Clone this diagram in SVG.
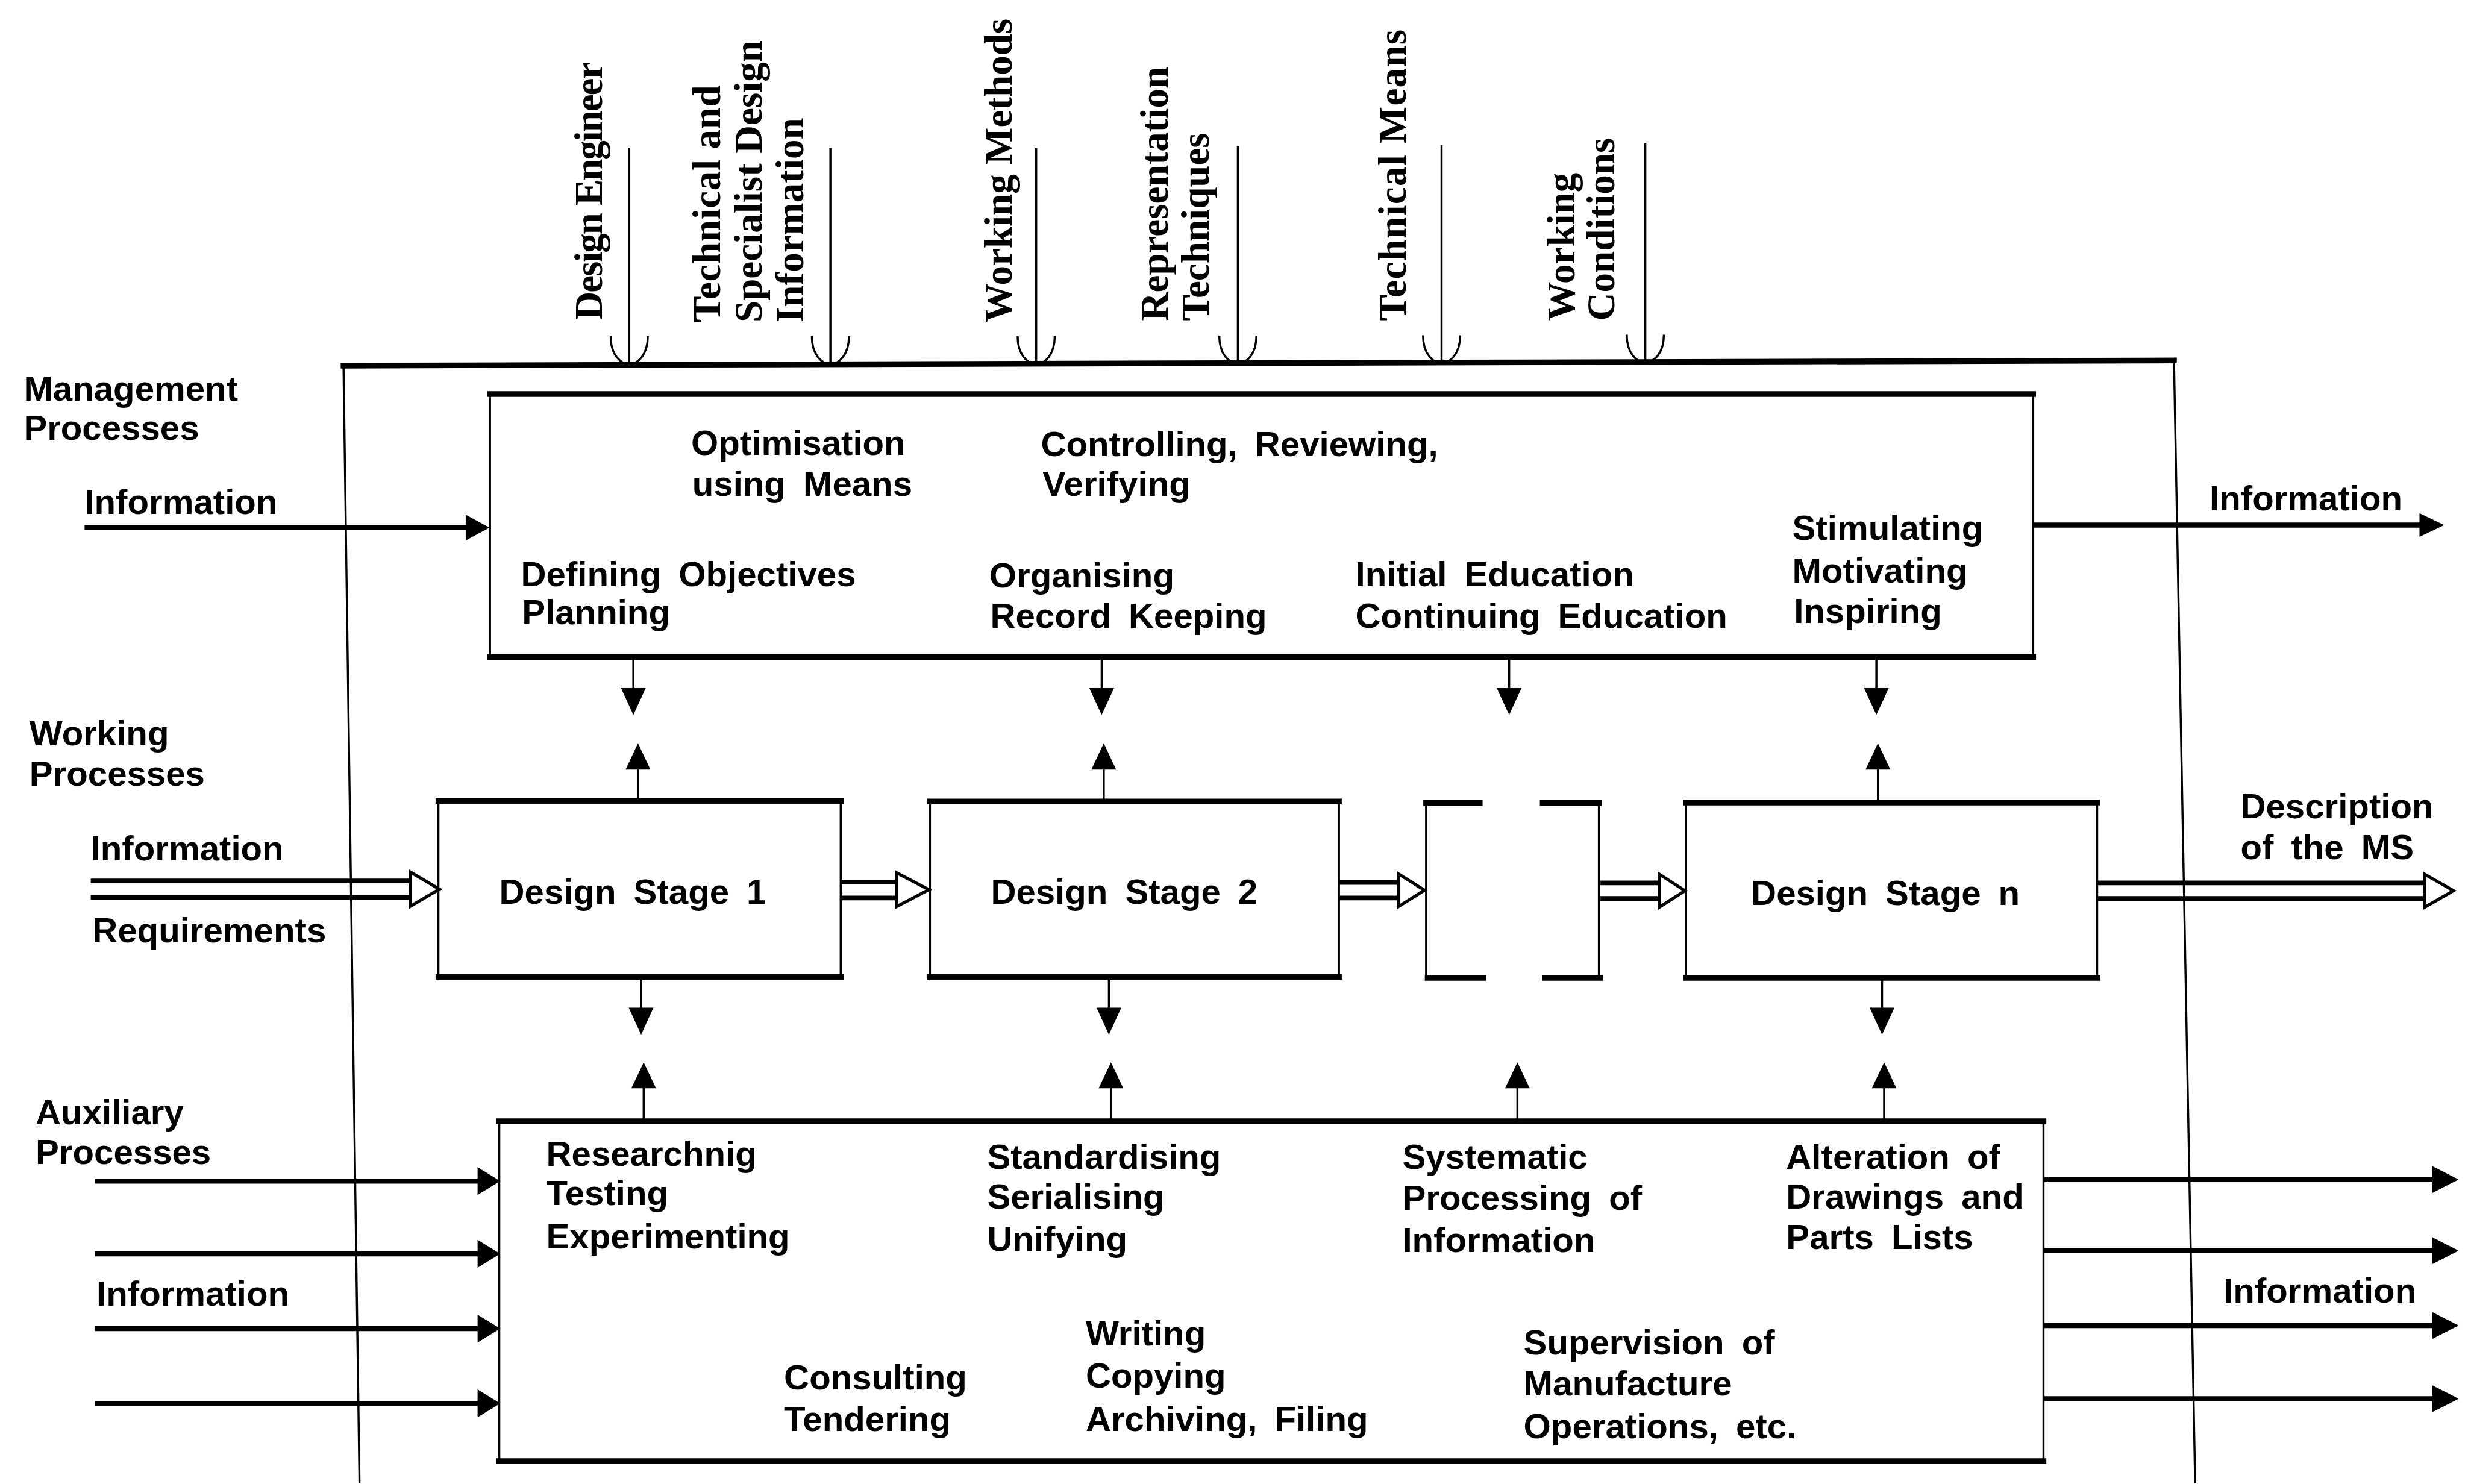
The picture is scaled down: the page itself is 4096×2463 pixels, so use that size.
<svg xmlns="http://www.w3.org/2000/svg" width="4096" height="2463" viewBox="0 0 4096 2463">
<style>
  .lbl { font-family: "Liberation Sans", Arial, sans-serif; font-weight: bold; font-size: 68px; word-spacing: 15px; fill: #000; }
  .vlbl { font-family: "Liberation Serif", "Times New Roman", serif; font-weight: bold; font-size: 76px; fill: #000; }
  .side { fill: none; stroke: #000; stroke-width: 4; }
  .edge { fill: none; stroke: #000; stroke-width: 11; stroke-linecap: square; }
  .feed { fill: none; stroke: #000; stroke-width: 4; }
  .flow { fill: none; stroke: #000; stroke-width: 10; }
  .rail { fill: none; stroke: #000; stroke-width: 9; }
  .link { fill: none; stroke: #000; stroke-width: 4; }
  .head { fill: #000; stroke: none; }
  .open { fill: #fff; stroke: #000; stroke-width: 6; stroke-linejoin: miter; }
</style>
<rect width="4096" height="2463" fill="#fff"/>
<g transform="scale(0.856)">

  <!-- outer system boundary, open at the bottom -->
  <g id="system-boundary">
    <path class="side" d="M666 709 L697 2876 M4215 699 L4256 2876"/>
    <path class="edge" d="M666 709 L4215 699"/>
  </g>

  <!-- resource inputs entering from the top -->
  <g id="input-design-engineer">
    <text class="vlbl" transform="translate(1167 620) rotate(-90)" textLength="500" lengthAdjust="spacing">Design Engineer</text>
    <path class="feed" d="M1220 287 V706 M1184 652 C1184 690 1204 704 1220 708 M1256 652 C1256 690 1236 704 1220 708"/>
  </g>
  <g id="input-information">
    <text class="vlbl" transform="translate(1396 625) rotate(-90)" textLength="460" lengthAdjust="spacing">Technical and</text>
    <text class="vlbl" transform="translate(1477 625) rotate(-90)">Specialist Design</text>
    <text class="vlbl" transform="translate(1557 625) rotate(-90)">Information</text>
    <path class="feed" d="M1610 287 V706 M1574 652 C1574 690 1594 704 1610 708 M1646 652 C1646 690 1626 704 1610 708"/>
  </g>
  <g id="input-working-methods">
    <text class="vlbl" transform="translate(1962 625) rotate(-90)">Working Methods</text>
    <path class="feed" d="M2009 287 V706 M1973 652 C1973 690 1993 704 2009 708 M2045 652 C2045 690 2025 704 2009 708"/>
  </g>
  <g id="input-representation">
    <text class="vlbl" transform="translate(2264 622) rotate(-90)">Representation</text>
    <text class="vlbl" transform="translate(2344 622) rotate(-90)">Techniques</text>
    <path class="feed" d="M2400 284 V705 M2364 651 C2364 689 2384 703 2400 707 M2436 651 C2436 689 2416 703 2400 707"/>
  </g>
  <g id="input-technical-means">
    <text class="vlbl" transform="translate(2725 622) rotate(-90)" textLength="565" lengthAdjust="spacing">Technical Means</text>
    <path class="feed" d="M2795 281 V704 M2759 650 C2759 688 2779 702 2795 706 M2831 650 C2831 688 2811 702 2795 706"/>
  </g>
  <g id="input-working-conditions">
    <text class="vlbl" transform="translate(3052 622) rotate(-90)">Working</text>
    <text class="vlbl" transform="translate(3130 622) rotate(-90)">Conditions</text>
    <path class="feed" d="M3190 278 V703 M3154 649 C3154 687 3174 701 3190 705 M3226 649 C3226 687 3206 701 3190 705"/>
  </g>

  <!-- management processes -->
  <g id="management-processes">
    <rect class="side" x="950" y="764" width="2992" height="510"/>
    <path class="edge" d="M950 764 H3942 M950 1274 H3942"/>
    <text class="lbl" x="1340" y="882">Optimisation</text>
    <text class="lbl" x="1342" y="962">using Means</text>
    <text class="lbl" x="2018" y="884">Controlling, Reviewing,</text>
    <text class="lbl" x="2021" y="962">Verifying</text>
    <text class="lbl" x="1010" y="1137">Defining Objectives</text>
    <text class="lbl" x="1012" y="1210">Planning</text>
    <text class="lbl" x="1918" y="1139">Organising</text>
    <text class="lbl" x="1920" y="1217">Record Keeping</text>
    <text class="lbl" x="2628" y="1137">Initial Education</text>
    <text class="lbl" x="2628" y="1217">Continuing Education</text>
    <text class="lbl" x="3475" y="1047">Stimulating</text>
    <text class="lbl" x="3475" y="1130">Motivating</text>
    <text class="lbl" x="3478" y="1208">Inspiring</text>
  </g>

  <!-- working processes: design stages -->
  <g id="design-stage-1">
    <rect class="side" x="850" y="1553" width="780" height="341"/>
    <path class="edge" d="M850 1553 H1630 M850 1894 H1630"/>
    <text class="lbl" x="968" y="1752">Design Stage 1</text>
  </g>
  <g id="design-stage-2">
    <rect class="side" x="1803" y="1554" width="793" height="340"/>
    <path class="edge" d="M1803 1554 H2596 M1803 1894 H2596"/>
    <text class="lbl" x="1921" y="1752">Design Stage 2</text>
  </g>
  <g id="design-stage-intermediate">
    <path class="side" d="M2765 1557 V1896 M3100 1557 V1896"/>
    <path class="edge" d="M2765 1557 H2869 M2991 1557 H3100 M2768 1896 H2876 M2995 1896 H3102"/>
  </g>
  <g id="design-stage-n">
    <rect class="side" x="3269" y="1556" width="797" height="340"/>
    <path class="edge" d="M3269 1556 H4066 M3269 1896 H4066"/>
    <text class="lbl" x="3395" y="1755">Design Stage n</text>
  </g>

  <!-- auxiliary processes -->
  <g id="auxiliary-processes">
    <rect class="side" x="968" y="2174" width="2994" height="659"/>
    <path class="edge" d="M968 2174 H3962 M968 2833 H3962"/>
    <text class="lbl" x="1059" y="2260">Researchnig</text>
    <text class="lbl" x="1059" y="2337">Testing</text>
    <text class="lbl" x="1059" y="2420">Experimenting</text>
    <text class="lbl" x="1914" y="2266">Standardising</text>
    <text class="lbl" x="1914" y="2343">Serialising</text>
    <text class="lbl" x="1914" y="2425">Unifying</text>
    <text class="lbl" x="2719" y="2266">Systematic</text>
    <text class="lbl" x="2719" y="2346">Processing of</text>
    <text class="lbl" x="2719" y="2428">Information</text>
    <text class="lbl" x="3463" y="2266">Alteration of</text>
    <text class="lbl" x="3463" y="2343">Drawings and</text>
    <text class="lbl" x="3463" y="2422">Parts Lists</text>
    <text class="lbl" x="1520" y="2694">Consulting</text>
    <text class="lbl" x="1520" y="2774">Tendering</text>
    <text class="lbl" x="2105" y="2609">Writing</text>
    <text class="lbl" x="2105" y="2691">Copying</text>
    <text class="lbl" x="2105" y="2774">Archiving, Filing</text>
    <text class="lbl" x="2954" y="2626">Supervision of</text>
    <text class="lbl" x="2954" y="2706">Manufacture</text>
    <text class="lbl" x="2954" y="2789">Operations, etc.</text>
  </g>

  <!-- process-level captions outside the boundary -->
  <g id="captions">
    <text class="lbl" x="46" y="777">Management</text>
    <text class="lbl" x="46" y="853">Processes</text>
    <text class="lbl" x="164" y="996">Information</text>
    <text class="lbl" x="57" y="1445">Working</text>
    <text class="lbl" x="57" y="1523">Processes</text>
    <text class="lbl" x="176" y="1668">Information</text>
    <text class="lbl" x="179" y="1827">Requirements</text>
    <text class="lbl" x="69" y="2180">Auxiliary</text>
    <text class="lbl" x="69" y="2257">Processes</text>
    <text class="lbl" x="187" y="2532">Information</text>
    <text class="lbl" x="4284" y="989">Information</text>
    <text class="lbl" x="4344" y="1586">Description</text>
    <text class="lbl" x="4344" y="1666">of the MS</text>
    <text class="lbl" x="4311" y="2526">Information</text>
  </g>

  <g id="connectors">
    <!-- management information in / out -->
    <path class="flow" d="M164 1023 H905"/>
    <polygon class="head" points="903,998 949,1023 903,1048"/>
    <path class="flow" d="M3942 1018 H4693"/>
    <polygon class="head" points="4691,995 4739,1018 4691,1041"/>

    <!-- working process chain (double-line arrows) -->
    <path class="rail" d="M176 1708 H800 M176 1740 H800"/>
    <polygon class="open" points="796,1691 852,1724 796,1757"/>
    <path class="rail" d="M1630 1710 H1742 M1630 1741 H1742"/>
    <polygon class="open" points="1738,1692 1801,1725 1738,1758"/>
    <path class="rail" d="M2597 1711 H2715 M2597 1741 H2715"/>
    <polygon class="open" points="2711,1694 2762,1726 2711,1758"/>
    <path class="rail" d="M3103 1712 H3221 M3103 1742 H3221"/>
    <polygon class="open" points="3217,1695 3267,1727 3217,1759"/>
    <path class="rail" d="M4066 1712 H4705 M4066 1742 H4705"/>
    <polygon class="open" points="4701,1695 4757,1727 4701,1759"/>

    <!-- management to working level -->
    <path class="link" d="M1228 1274 V1340 M2136 1274 V1340 M2926 1274 V1340 M3638 1274 V1340"/>
    <polygon class="head" points="1204,1334 1252,1334 1228,1386"/>
    <polygon class="head" points="2112,1334 2160,1334 2136,1386"/>
    <polygon class="head" points="2902,1334 2950,1334 2926,1386"/>
    <polygon class="head" points="3614,1334 3662,1334 3638,1386"/>

    <!-- working level back to management -->
    <path class="link" d="M1237 1553 V1486 M2140 1554 V1486 M3641 1556 V1486"/>
    <polygon class="head" points="1213,1492 1261,1492 1237,1441"/>
    <polygon class="head" points="2116,1492 2164,1492 2140,1441"/>
    <polygon class="head" points="3617,1492 3665,1492 3641,1441"/>

    <!-- working level to auxiliary -->
    <path class="link" d="M1243 1894 V1960 M2150 1894 V1960 M3649 1896 V1960"/>
    <polygon class="head" points="1219,1954 1267,1954 1243,2006"/>
    <polygon class="head" points="2126,1954 2174,1954 2150,2006"/>
    <polygon class="head" points="3625,1954 3673,1954 3649,2006"/>

    <!-- auxiliary back up -->
    <path class="link" d="M1248 2174 V2104 M2154 2174 V2104 M2942 2174 V2104 M3653 2174 V2104"/>
    <polygon class="head" points="1224,2110 1272,2110 1248,2060"/>
    <polygon class="head" points="2130,2110 2178,2110 2154,2060"/>
    <polygon class="head" points="2918,2110 2966,2110 2942,2060"/>
    <polygon class="head" points="3629,2110 3677,2110 3653,2060"/>

    <!-- auxiliary information in -->
    <path class="flow" d="M184 2290 H928 M184 2431 H928 M184 2576 H928 M184 2721 H928"/>
    <polygon class="head" points="926,2263 970,2290 926,2317"/>
    <polygon class="head" points="926,2404 970,2431 926,2458"/>
    <polygon class="head" points="926,2549 970,2576 926,2603"/>
    <polygon class="head" points="926,2694 970,2721 926,2748"/>

    <!-- auxiliary information out -->
    <path class="flow" d="M3962 2287 H4718 M3962 2425 H4718 M3962 2570 H4718 M3962 2712 H4718"/>
    <polygon class="head" points="4716,2261 4767,2287 4716,2313"/>
    <polygon class="head" points="4716,2399 4767,2425 4716,2451"/>
    <polygon class="head" points="4716,2544 4767,2570 4716,2596"/>
    <polygon class="head" points="4716,2686 4767,2712 4716,2738"/>
  </g>
</g>
</svg>
